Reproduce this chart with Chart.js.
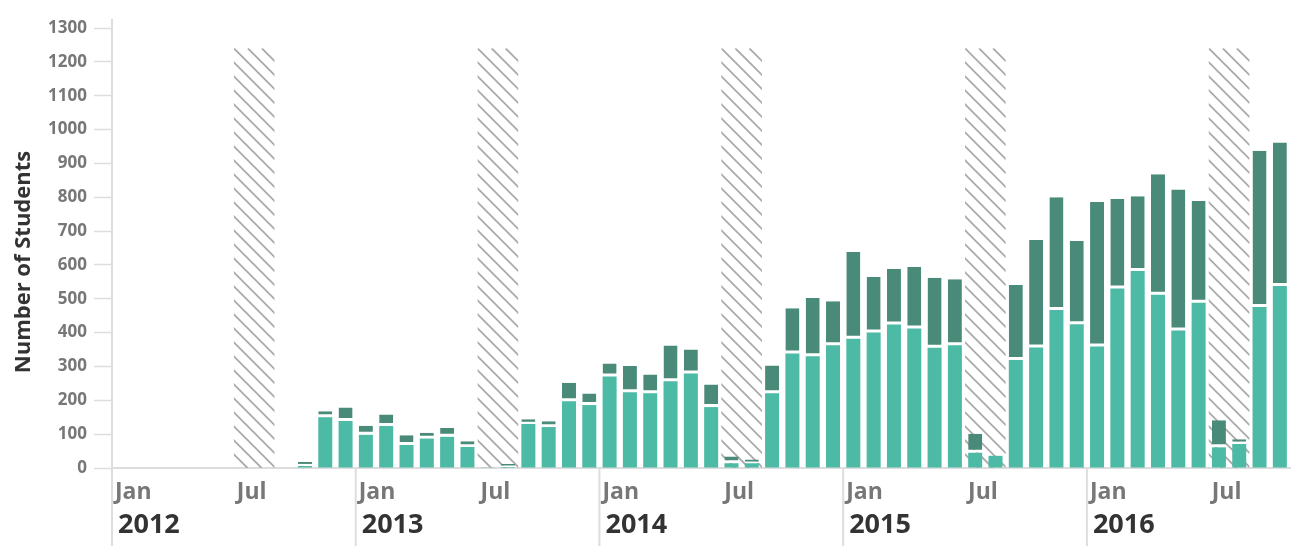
<!DOCTYPE html>
<html>
<head>
<meta charset="utf-8">
<script src="https://cdn.jsdelivr.net/npm/chart.js@4.4.1/dist/chart.umd.min.js"></script>
<style>
  html, body { margin: 0; padding: 0; background: #fff; }
  #wrap { width: 1300px; height: 560px; }
</style>
</head>
<body>
<div id="wrap"><canvas id="myChart"></canvas></div>
<script>
// Months from Jan 2012 to Oct 2016
const months = [
    '2012-01', '2012-02', '2012-03', '2012-04', '2012-05', '2012-06', '2012-07', '2012-08', '2012-09', '2012-10', '2012-11', '2012-12',
    '2013-01', '2013-02', '2013-03', '2013-04', '2013-05', '2013-06', '2013-07', '2013-08', '2013-09', '2013-10', '2013-11', '2013-12',
    '2014-01', '2014-02', '2014-03', '2014-04', '2014-05', '2014-06', '2014-07', '2014-08', '2014-09', '2014-10', '2014-11', '2014-12',
    '2015-01', '2015-02', '2015-03', '2015-04', '2015-05', '2015-06', '2015-07', '2015-08', '2015-09', '2015-10', '2015-11', '2015-12',
    '2016-01', '2016-02', '2016-03', '2016-04', '2016-05', '2016-06', '2016-07', '2016-08', '2016-09', '2016-10',
];

// lower (light) part of each bar
const lightCounts = [
    0, 0, 0, 0, 0, 0, 0, 0, 0, 6, 150, 139,
    98, 124, 68, 87, 92, 62, 1, 3, 130, 121, 197, 186,
    270, 224, 221, 256, 279, 180, 14, 14, 221, 338, 330, 363,
    382, 400, 424, 412, 355, 363, 45, 36, 319, 356, 467, 425,
    359, 530, 582, 512, 406, 488, 61, 71, 476, 538,
];

// upper (dark) part of each bar
const darkCounts = [
    0, 0, 0, 0, 0, 0, 0, 0, 0, 12, 18, 40,
    27, 34, 29, 17, 26, 17, 2, 9, 14, 17, 55, 34,
    39, 77, 55, 106, 71, 67, 20, 11, 82, 134, 172, 130,
    256, 164, 164, 182, 207, 195, 56, 0, 222, 318, 333, 246,
    427, 265, 221, 356, 417, 301, 80, 14, 461, 424,
];

// summer breaks, shown hatched
const breaks = [
    ['2012-07', '2012-08'],
    ['2013-07', '2013-08'],
    ['2014-07', '2014-08'],
    ['2015-07', '2015-08'],
    ['2016-07', '2016-08'],
];
const breakTop = 1240;

const monthNames = { '01': 'Jan', '07': 'Jul' };
const yTitle = 'Number of Students';

const LIGHT = '#4dbaa6';
const DARK = '#4a8a79';
const GRID = '#dddddd';

// hatched summer bands behind the bars, plus the two-row month/year axis
const hatchPlugin = {
    id: 'hatch',
    beforeDatasetsDraw(chart) {
        const { ctx } = chart;
        const x = chart.scales.x;
        const y = chart.scales.y;
        const band = x.getPixelForValue(1) - x.getPixelForValue(0);
        const step = 14;
        breaks.forEach(([from, to]) => {
            const x0 = x.getPixelForValue(months.indexOf(from)) - band / 2;
            const x1 = x.getPixelForValue(months.indexOf(to)) + band / 2;
            const y0 = y.getPixelForValue(breakTop);
            const y1 = y.getPixelForValue(0);
            const h = y1 - y0;
            ctx.save();
            ctx.beginPath();
            ctx.rect(x0, y0, x1 - x0, h);
            ctx.clip();
            ctx.strokeStyle = '#aaaaaa';
            ctx.lineWidth = 1.8;
            ctx.beginPath();
            for (let s = x0 - Math.ceil(h / step) * step; s < x1; s += step) {
                ctx.moveTo(s, y0);
                ctx.lineTo(s + h, y1);
            }
            ctx.stroke();
            ctx.restore();
        });
    },
    afterDraw(chart) {
        const { ctx, chartArea } = chart;
        const x = chart.scales.x;
        const band = x.getPixelForValue(1) - x.getPixelForValue(0);

        ctx.save();
        // y axis line runs a little above the top tick
        ctx.strokeStyle = GRID;
        ctx.lineWidth = 2;
        ctx.beginPath();
        ctx.moveTo(chartArea.left, chartArea.top - 9);
        ctx.lineTo(chartArea.left, chartArea.top);
        ctx.stroke();

        // y axis title
        ctx.save();
        ctx.translate(24, 262);
        ctx.rotate(-Math.PI / 2);
        ctx.textAlign = 'center';
        ctx.textBaseline = 'middle';
        ctx.fillStyle = '#333333';
        ctx.font = 'bold 22px "Open Sans"';
        ctx.fillText(yTitle, 0, 0);
        ctx.restore();

        ctx.textAlign = 'left';
        ctx.textBaseline = 'middle';
        months.forEach((m, i) => {
            const [year, mon] = m.split('-');
            const name = monthNames[mon];
            if (!name) return;
            const left = x.getPixelForValue(i) - band / 2;
            ctx.fillStyle = '#777777';
            ctx.font = 'bold 23px "Open Sans"';
            ctx.fillText(name, left + 3, chartArea.bottom + 24);
            if (mon === '01') {
                ctx.fillStyle = '#333333';
                ctx.font = 'bold 27px "Open Sans"';
                ctx.fillText(year, left + 6, chartArea.bottom + 57);
                ctx.strokeStyle = GRID;
                ctx.lineWidth = 2;
                ctx.beginPath();
                ctx.moveTo(left, chartArea.bottom);
                ctx.lineTo(left, chartArea.bottom + 78);
                ctx.stroke();
            }
        });
        ctx.restore();
    },
};

const data = {
    labels: months,
    datasets: [
        {
            label: 'Light',
            data: lightCounts,
            backgroundColor: LIGHT,
            borderWidth: 0,
            barPercentage: 0.69,
            categoryPercentage: 1.0,
        },
        {
            label: 'Dark',
            data: darkCounts,
            backgroundColor: DARK,
            borderColor: '#ffffff',
            borderWidth: { top: 0, left: 0, right: 0, bottom: 3 },
            borderSkipped: false,
            barPercentage: 0.69,
            categoryPercentage: 1.0,
        },
    ],
};

const config = {
    type: 'bar',
    data: data,
    plugins: [hatchPlugin],
    options: {
        responsive: true,
        maintainAspectRatio: false,
        animation: false,
        layout: { padding: { top: 28, right: 10, bottom: 0, left: 0 } },
        plugins: {
            legend: { display: false },
            tooltip: { enabled: false },
        },
        scales: {
            x: {
                stacked: true,
                offset: true,
                grid: { display: false },
                ticks: { display: false },
                border: { color: GRID, width: 2 },
                afterFit(scale) { scale.height = 92; },
            },
            y: {
                stacked: true,
                min: 0,
                max: 1300,
                ticks: {
                    stepSize: 100,
                    padding: 7,
                    color: '#777777',
                    font: { family: 'Open Sans', size: 17, weight: 'bold' },
                    callback: (v) => String(v),
                },
                grid: {
                    drawOnChartArea: false,
                    drawTicks: true,
                    tickLength: 18,
                    tickColor: GRID,
                    tickWidth: 1.5,
                },
                border: { color: GRID, width: 2 },
                afterFit(scale) { scale.width = 112; },
            },
        },
    },
};

new Chart(document.getElementById('myChart'), config);
</script>
</body>
</html>
